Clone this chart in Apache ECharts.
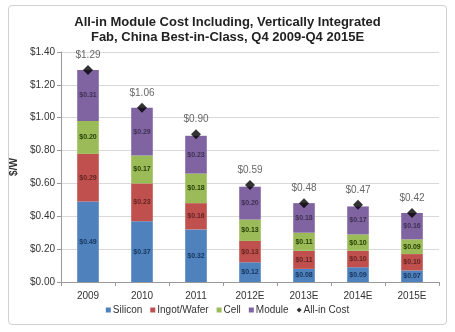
<!DOCTYPE html>
<html>
<head>
<meta charset="utf-8">
<script src="https://cdn.jsdelivr.net/npm/echarts@6/dist/echarts.min.js"></script>
<style>
  html, body { margin: 0; padding: 0; background: #fff; }
  #frame { position: absolute; left: 8px; top: 5px; width: 437px; height: 318px; border: 1px solid #d0d0d0; border-radius: 4px; }
  #chart { width: 455px; height: 332px; }
</style>
</head>
<body>
<div id="frame"></div>
<div id="chart"></div>
<script>
  // 年份
  var years = ['2009', '2010', '2011', '2012E', '2013E', '2014E', '2015E'];
  var silicon = [0.49, 0.37, 0.32, 0.12, 0.08, 0.09, 0.07];
  var ingotWafer = [0.29, 0.23, 0.16, 0.13, 0.11, 0.10, 0.10];
  var cell = [0.20, 0.17, 0.18, 0.13, 0.11, 0.10, 0.09];
  var moduleCost = [0.31, 0.29, 0.23, 0.20, 0.18, 0.17, 0.16];
  var allInCost = [1.29, 1.06, 0.90, 0.59, 0.48, 0.47, 0.42];

  var font = 'Liberation Sans, Arial, sans-serif';

  function seg(name, data, color, textColor) {
    return {
      name: name,
      type: 'bar',
      stack: 'cost',
      barWidth: '40%',
      data: data,
      itemStyle: { color: color },
      label: {
        show: true,
        position: 'inside',
        fontSize: 7,
        fontWeight: 'bold',
        fontFamily: font,
        color: textColor,
        formatter: function (p) { return '$' + p.value.toFixed(2); }
      }
    };
  }

  var chart = echarts.init(document.getElementById('chart'));
  chart.setOption({
    animation: false,
    textStyle: { fontFamily: font },
    title: {
      text: 'All-in Module Cost Including, Vertically Integrated\nFab, China Best-in-Class, Q4 2009-Q4 2015E',
      left: 'center',
      top: 10,
      textStyle: { fontSize: 13, fontWeight: 'bold', color: '#222', lineHeight: 15, fontFamily: font }
    },
    legend: {
      bottom: 12,
      left: 'center',
      itemWidth: 5,
      itemHeight: 5,
      itemGap: 8,
      textStyle: { fontSize: 10, color: '#333', padding: [0, 0, 0, -3] },
      data: [
        { name: 'Silicon', icon: 'rect' },
        { name: 'Ingot/Wafer', icon: 'rect' },
        { name: 'Cell', icon: 'rect' },
        { name: 'Module', icon: 'rect' },
        { name: 'All-in Cost', icon: 'diamond' }
      ]
    },
    grid: { left: 61, right: 16, top: 52, bottom: 50 },
    xAxis: {
      type: 'category',
      data: years,
      axisLine: { lineStyle: { color: '#999' } },
      axisTick: { show: true, length: 4, lineStyle: { color: '#999' } },
      axisLabel: { fontSize: 10, color: '#333', margin: 9 }
    },
    yAxis: {
      type: 'value',
      name: '$/W',
      nameLocation: 'middle',
      nameGap: 31,
      nameTextStyle: { fontSize: 10, fontWeight: 'bold', color: '#333' },
      min: 0,
      max: 1.4,
      interval: 0.2,
      axisLine: { show: true, lineStyle: { color: '#999' } },
      axisTick: { show: true, length: 4, inside: false, lineStyle: { color: '#999' } },
      splitLine: { lineStyle: { color: '#d9d9d9' } },
      axisLabel: {
        fontSize: 10,
        color: '#333',
        margin: 6,
        formatter: function (v) { return '$' + v.toFixed(2); }
      }
    },
    series: [
      seg('Silicon', silicon, '#4F81BD', '#17365D'),
      seg('Ingot/Wafer', ingotWafer, '#C0504D', '#632523'),
      seg('Cell', cell, '#9BBB59', '#244006'),
      seg('Module', moduleCost, '#8064A2', '#3F3151'),
      {
        name: 'All-in Cost',
        type: 'scatter',
        symbol: 'diamond',
        symbolSize: 10,
        data: allInCost,
        itemStyle: { color: '#000' },
        z: 5,
        label: {
          show: true,
          position: 'top',
          distance: 5,
          fontSize: 10,
          color: '#404040',
          formatter: function (p) { return '$' + p.value.toFixed(2); }
        }
      }
    ]
  });
</script>
</body>
</html>
